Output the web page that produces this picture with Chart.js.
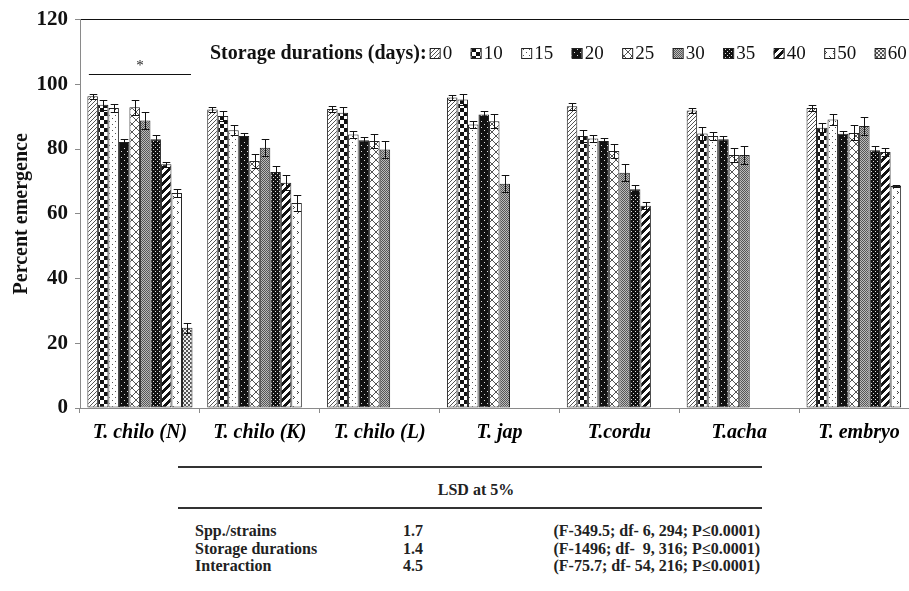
<!DOCTYPE html>
<html><head><meta charset="utf-8">
<script src="https://cdn.jsdelivr.net/npm/chart.js@4.4.1/dist/chart.umd.min.js"></script>
<style>
html,body{margin:0;padding:0;overflow:hidden;background:#fff;width:909px;height:591px;}
#wrap{position:absolute;left:0;top:0;width:919px;height:450px;}
.tbl{position:absolute;font-family:"Liberation Serif","Times New Roman",serif;font-weight:bold;font-size:16px;color:#222;white-space:pre;line-height:16px;}
.rule{position:absolute;left:178px;width:584px;height:0;border-top:2px solid #333;}
</style></head>
<body>
<div id="wrap"><canvas id="c" width="919" height="450" style="width:919px;height:450px"></canvas></div>
<div id="table"></div>
<script>
// ---- data ----
const categories = ['T. chilo (N)', 'T. chilo (K)', 'T. chilo (L)', 'T. jap', 'T.cordu', 'T.acha', 'T. embryo'];
const durations = ['0', '10', '15', '20', '25', '30', '35', '40', '50', '60'];
const legendTitle = 'Storage durations (days):';
const yTitle = 'Percent emergence';
const yTicks = [0, 20, 40, 60, 80, 100, 120];

const d0  = [96.3, 92.2, 92.4, 95.9, 93.2, 91.9, 92.7];
const d10 = [93.7, 90.2, 91.2, 95.3, 84.0, 84.8, 86.6];
const d15 = [92.7, 85.8, 84.5, 87.6, 83.3, 84.0, 89.1];
const d20 = [82.2, 84.0, 82.7, 90.7, 82.5, 83.0, 84.7];
const d25 = [92.9, 76.3, 82.5, 88.6, 79.4, 78.2, 85.0];
const d30 = [88.8, 80.4, 79.9, 69.3, 72.7, 78.2, 87.1];
const d35 = [83.0, 72.9, null, null, 67.6, null, 79.6];
const d40 = [75.3, 69.6, null, null, 62.5, null, 79.1];
const d50 = [66.4, 63.3, null, null, null, null, 68.6];
const d60 = [24.8, null, null, null, null, null, null];

const e0  = [0.7, 0.7, 0.8, 0.7, 1.0, 0.8, 0.8];
const e10 = [1.6, 1.5, 1.8, 1.7, 1.8, 2.0, 1.3];
const e15 = [1.3, 1.5, 1.0, 1.2, 1.2, 1.2, 1.6];
const e20 = [1.0, 1.0, 1.0, 1.2, 1.0, 1.0, 1.0];
const e25 = [2.4, 2.3, 2.2, 2.2, 2.3, 2.2, 2.3];
const e30 = [2.6, 2.6, 2.6, 2.7, 2.6, 2.7, 2.8];
const e35 = [1.5, 1.9, null, null, 1.2, null, 1.2];
const e40 = [0.8, 2.3, null, null, 1.0, null, 1.3];
const e50 = [1.2, 2.4, null, null, null, null, 0.3];
const e60 = [1.6, null, null, null, null, null, null];

const significanceMark = '*';
const significanceLevel = 103.1;

const lsdHeader = 'LSD at 5%';
const lsdLabels = ['Spp./strains', 'Storage durations', 'Interaction'];
const lsdValues = ['1.7', '1.4', '4.5'];
const lsdStats = ['(F-349.5; df- 6, 294; P\u22640.0001)', '(F-1496; df-  9, 316; P\u22640.0001)', '(F-75.7; df- 54, 216; P\u22640.0001)'];

const values = [d0, d10, d15, d20, d25, d30, d35, d40, d50, d60];
const errors = [e0, e10, e15, e20, e25, e30, e35, e40, e50, e60];

// ---- patterns (styling) ----
const cv = document.getElementById('c');
const ctx0 = cv.getContext('2d');
function makePattern(rows, colors) {
  const h = rows.length, w = rows[0].length;
  const c = document.createElement('canvas'); c.width = w; c.height = h;
  const x = c.getContext('2d');
  for (let yy = 0; yy < h; yy++) for (let xx = 0; xx < w; xx++) {
    x.fillStyle = colors[rows[yy][xx]]; x.fillRect(xx, yy, 1, 1);
  }
  return ctx0.createPattern(c, 'repeat');
}
function genRows(w, h, f) { const r = []; for (let y = 0; y < h; y++) { let s = ''; for (let x = 0; x < w; x++) s += f(x, y) ? '#' : '.'; r.push(s); } return r; }
const W = '#ffffff';
const patterns = [
  makePattern(genRows(4, 4, (x, y) => x + y === 3), {'#': '#555', '.': W}),
  makePattern(genRows(8, 8, (x, y) => (x < 4) === (y < 4)), {'#': '#111', '.': W}),
  makePattern(genRows(6, 6, (x, y) => (x === 1 && y === 1) || (x === 4 && y === 4)), {'#': '#555', '.': W}),
  makePattern(genRows(6, 6, (x, y) => !((x === 1 && y === 1) || (x === 4 && y === 4))), {'#': '#111', '.': '#ddd'}),
  makePattern(genRows(8, 8, (x, y) => x === y || x === 7 - y), {'#': '#555', '.': W}),
  makePattern(genRows(2, 2, (x, y) => x === y), {'#': '#555', '.': '#bbb'}),
  makePattern(genRows(4, 4, (x, y) => !((x === 1 && y === 1) || (x === 3 && y === 3))), {'#': '#111', '.': '#ddd'}),
  makePattern(genRows(8, 8, (x, y) => ((x + y) % 8) < 4), {'#': '#111', '.': W}),
  makePattern(['........', '.#......', '..#.....', '.#......', '........', '........', '.....#..', '......#.', '.....#..', '........'], {'#': '#444', '.': W}),
  makePattern(genRows(4, 4, (x, y) => (x < 2) === (y < 2)), {'#': '#555', '.': '#eee'})
];

const datasets = durations.map((d, i) => ({
  label: d,
  data: values[i],
  backgroundColor: patterns[i],
  borderColor: '#222',
  borderWidth: 1,
  borderSkipped: false
}));

const serif = '"Liberation Serif", "Times New Roman", serif';

const errorBarPlugin = {
  id: 'errorBars',
  afterDatasetsDraw(chart) {
    const c = chart.ctx, ys = chart.scales.y;
    c.save();
    c.strokeStyle = '#111'; c.lineWidth = 1;
    chart.data.datasets.forEach((ds, i) => {
      const meta = chart.getDatasetMeta(i);
      meta.data.forEach((el, j) => {
        const v = ds.data[j], e = errors[i][j];
        if (v == null || e == null) return;
        const x = Math.round(el.x) + 0.5;
        const yt = Math.round(ys.getPixelForValue(v + e)) + 0.5;
        const yb = Math.round(ys.getPixelForValue(v - e)) + 0.5;
        const hw = Math.max(3, el.width * 0.36);
        c.beginPath();
        c.moveTo(x, yt); c.lineTo(x, yb);
        c.moveTo(x - hw, yt); c.lineTo(x + hw, yt);
        c.moveTo(x - hw, yb); c.lineTo(x + hw, yb);
        c.stroke();
      });
    });
    c.restore();
  }
};

const annotationPlugin = {
  id: 'annot',
  afterDatasetsDraw(chart) {
    const c = chart.ctx, ys = chart.scales.y;
    const first = chart.getDatasetMeta(0).data[0];
    const last = chart.getDatasetMeta(chart.data.datasets.length - 1).data[0];
    const x1 = first.x - first.width / 2 + 1.5, x2 = last.x + last.width / 2 - 1.5;
    const y = Math.round(ys.getPixelForValue(significanceLevel)) + 0.5;
    c.save();
    c.strokeStyle = '#111'; c.lineWidth = 1;
    c.beginPath(); c.moveTo(x1, y); c.lineTo(x2, y); c.stroke();
    c.fillStyle = '#222'; c.font = '15px ' + serif; c.textAlign = 'center'; c.textBaseline = 'alphabetic';
    c.fillText(significanceMark, (x1 + x2) / 2, y - 5);
    c.restore();
  }
};

const legendPlugin = {
  id: 'customLegend',
  afterDraw(chart) {
    const c = chart.ctx;
    c.save();
    c.textBaseline = 'middle'; c.fillStyle = '#111';
    c.font = 'bold 20px ' + serif;
    let x = 210; const y = 54;
    c.textAlign = 'left';
    c.fillText(legendTitle, x, y);
    x += c.measureText(legendTitle).width + 3;
    c.font = '19px ' + serif;
    chart.data.datasets.forEach(ds => {
      c.fillStyle = ds.backgroundColor;
      c.fillRect(x, 48, 10, 10);
      c.strokeStyle = '#222'; c.lineWidth = 1;
      c.strokeRect(x + 0.5, 48.5, 10, 10);
      c.fillStyle = '#111';
      c.fillText(ds.label, x + 13, y);
      x += 13 + c.measureText(ds.label).width + 18.5;
    });
    c.restore();
  }
};

new Chart(cv, {
  type: 'bar',
  data: { labels: categories, datasets },
  plugins: [errorBarPlugin, annotationPlugin, legendPlugin],
  options: {
    responsive: false,
    animation: false,
    devicePixelRatio: 1,
    layout: { padding: { top: 18, right: 0, bottom: 0, left: 0 } },
    datasets: { bar: { barPercentage: 1.0, categoryPercentage: 0.877 } },
    plugins: { legend: { display: false }, tooltip: { enabled: false } },
    scales: {
      x: {
        afterFit(s) { s.height = 42; },
        border: { color: '#8a8a8a', width: 1 },
        grid: { display: true, drawOnChartArea: false, offset: true, tickLength: 5, color: '#8a8a8a' },
        ticks: { padding: 8, maxRotation: 0, autoSkip: false, color: '#000',
          font: { family: serif, size: 20, style: 'italic', weight: 'bold' } }
      },
      y: {
        min: 0, max: 120,
        afterFit(s) { s.width = 80; },
        afterBuildTicks(s) { s.ticks = yTicks.map(v => ({ value: v })); },
        border: { color: '#8a8a8a', width: 1 },
        grid: { drawOnChartArea: true, tickLength: 5, tickColor: '#8a8a8a',
          color: c => (c.tick && c.tick.value === 120) ? '#111' : 'rgba(0,0,0,0)' },
        ticks: { padding: 7, color: '#111', font: { family: serif, size: 21, weight: 'bold' } },
        title: { display: true, text: yTitle, color: '#111', padding: { top: 10, bottom: 0 },
          font: { family: serif, size: 20, weight: 'bold' } }
      }
    }
  }
});

// ---- LSD table (HTML text) ----
const tb = document.getElementById('table');
function addDiv(cls, text, style) { const d = document.createElement('div'); d.className = cls; if (text != null) d.textContent = text; d.setAttribute('style', style); tb.appendChild(d); return d; }
addDiv('rule', null, 'top:466px');
addDiv('rule', null, 'top:507px');
addDiv('tbl', lsdHeader, 'left:476px;top:482px;transform:translateX(-50%)');
const rowCenters = [531, 548.5, 566];
lsdLabels.forEach((lab, i) => {
  const top = rowCenters[i] - 8;
  addDiv('tbl', lab, 'left:195px;top:' + top + 'px');
  addDiv('tbl', lsdValues[i], 'left:413px;top:' + top + 'px;transform:translateX(-50%)');
  addDiv('tbl', lsdStats[i], 'right:' + (909 - 760) + 'px;top:' + top + 'px;text-align:right');
});
</script>
</body></html>
